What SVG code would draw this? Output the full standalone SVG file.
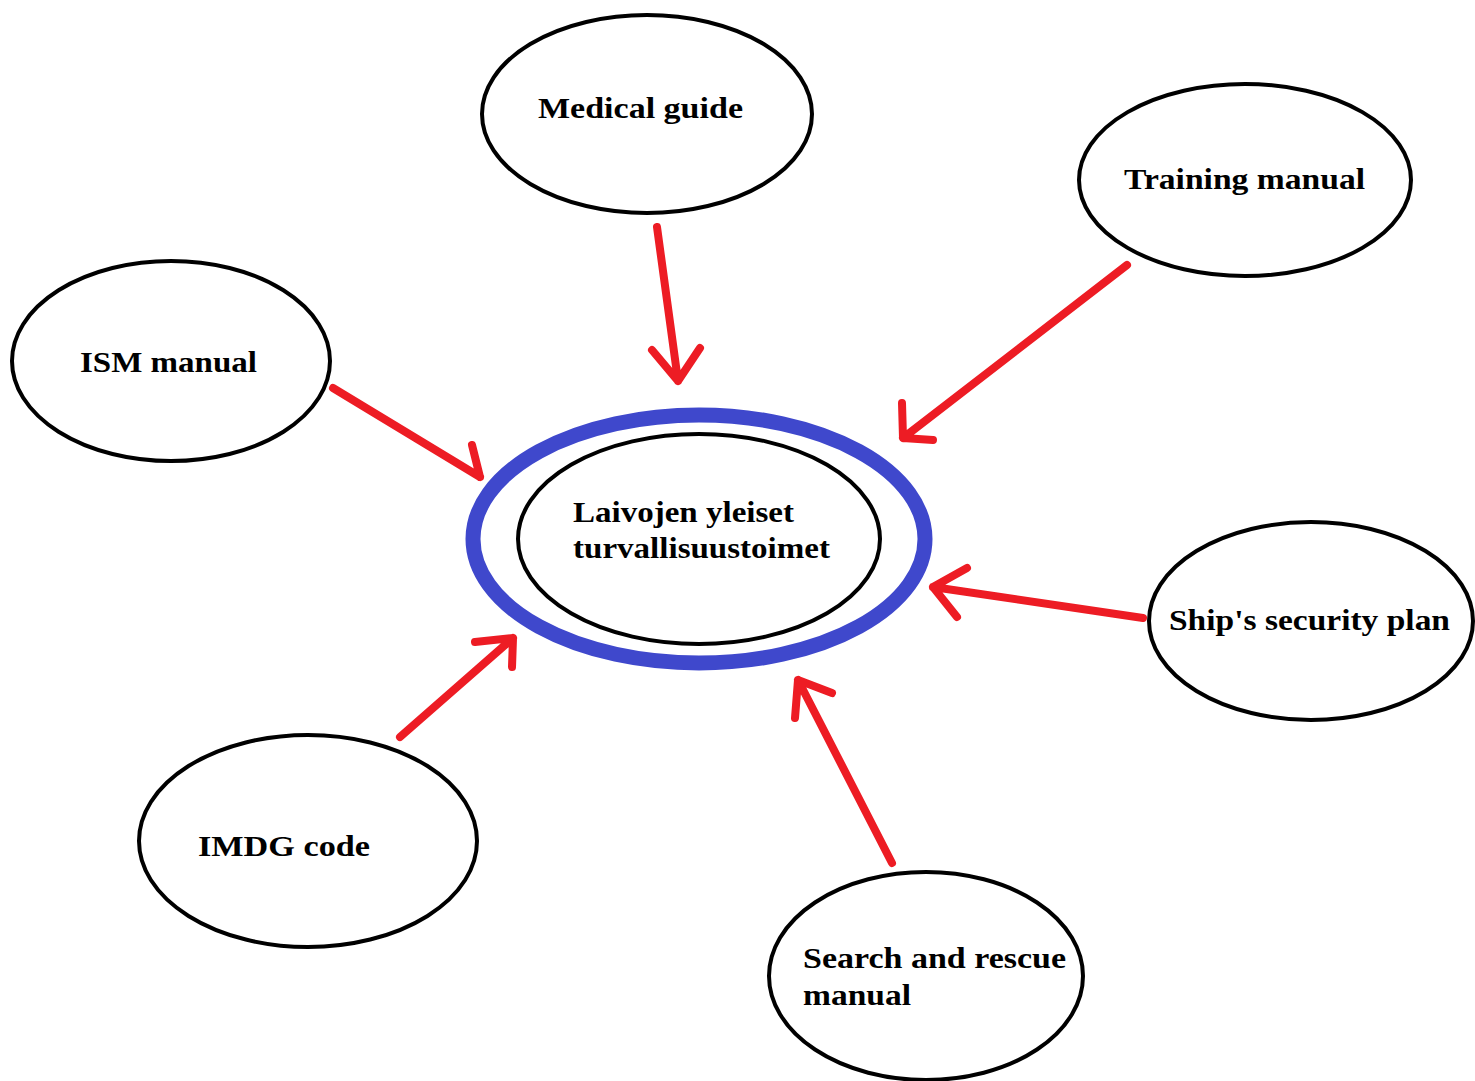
<svg xmlns="http://www.w3.org/2000/svg" width="1475" height="1081" viewBox="0 0 1475 1081">
<style>
.node{fill:#fff;stroke:#000;stroke-width:4}
.lbl{font-family:"Liberation Serif","Times New Roman",serif;font-weight:bold;font-size:29px;fill:#000}
.arr{fill:none;stroke:#ED1C24;stroke-width:8;stroke-linecap:round;stroke-linejoin:round}
</style>
<rect width="1475" height="1081" fill="#fff"/>
<g id="center">
<ellipse cx="699" cy="539" rx="226" ry="124" fill="none" stroke="#3F48CC" stroke-width="15"/>
<ellipse class="node" cx="699" cy="539" rx="181" ry="105"/>
<text class="lbl" x="573" y="522" textLength="221" lengthAdjust="spacingAndGlyphs">Laivojen yleiset</text>
<text class="lbl" x="573" y="558" textLength="257" lengthAdjust="spacingAndGlyphs">turvallisuustoimet</text>
</g>
<g id="medical">
<ellipse class="node" cx="647" cy="114" rx="165" ry="99"/>
<text class="lbl" x="538" y="118" textLength="205" lengthAdjust="spacingAndGlyphs">Medical guide</text>
</g>
<g id="training">
<ellipse class="node" cx="1245" cy="180" rx="166" ry="96"/>
<text class="lbl" x="1124" y="189" textLength="241" lengthAdjust="spacingAndGlyphs">Training manual</text>
</g>
<g id="ism">
<ellipse class="node" cx="171" cy="361" rx="159" ry="100"/>
<text class="lbl" x="80" y="372" textLength="177" lengthAdjust="spacingAndGlyphs">ISM manual</text>
</g>
<g id="ssp">
<ellipse class="node" cx="1311" cy="621" rx="162" ry="99"/>
<text class="lbl" x="1169" y="630" textLength="281" lengthAdjust="spacingAndGlyphs">Ship's security plan</text>
</g>
<g id="imdg">
<ellipse class="node" cx="308" cy="841" rx="169" ry="106"/>
<text class="lbl" x="198" y="856" textLength="172" lengthAdjust="spacingAndGlyphs">IMDG code</text>
</g>
<g id="sar">
<ellipse class="node" cx="926" cy="976" rx="157" ry="104"/>
<text class="lbl" x="803" y="968" textLength="263" lengthAdjust="spacingAndGlyphs">Search and rescue</text>
<text class="lbl" x="803" y="1005" textLength="108" lengthAdjust="spacingAndGlyphs">manual</text>
</g>
<g id="connectors">
<path class="arr" d="M657,227 L678,381 M652,350 L678,381 L700,348"/>
<path class="arr" d="M1127,265 L903,438 M902,403 L903,438 L933,440"/>
<path class="arr" d="M333,388 L480,477 M472,445 L480,477"/>
<path class="arr" d="M400,737 L513,638 M475,642 L513,638 L512,667"/>
<path class="arr" d="M892,863 L798,680 M795,718 L798,680 L832,693"/>
<path class="arr" d="M1143,618 L933,587 M967,568 L933,587 L957,617"/>
</g>
</svg>
